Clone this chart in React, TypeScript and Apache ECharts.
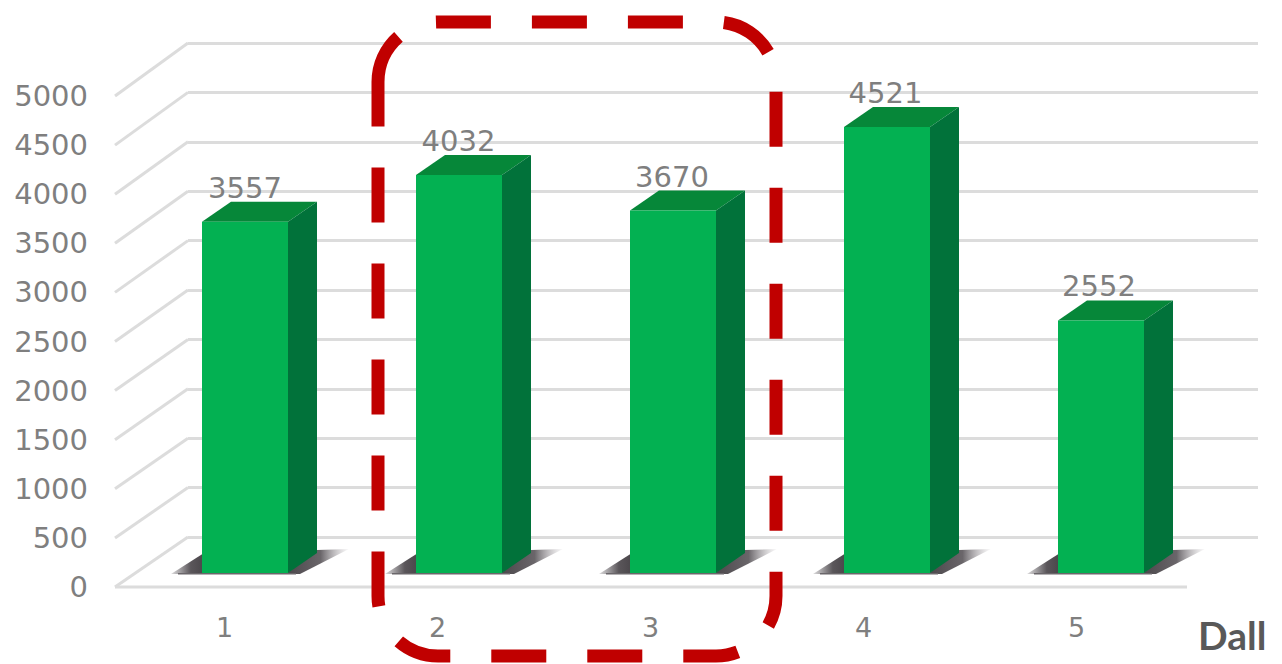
import React, { useEffect, useRef } from "react";
import * as echarts from "echarts";

const categories = ["1", "2", "3", "4", "5"];
const values = [3557, 4032, 3670, 4521, 2552];
const tickValues = [0, 500, 1000, 1500, 2000, 2500, 3000, 3500, 4000, 4500, 5000];
const axisName = "Dall";

const FONT = "'DejaVu Sans'";
const TEXT = "#7f7f7f";
const GRID = "#dcdcdc";

const frame =
  "M378 86 L378 82 A60 60 0 0 1 438 22 L716 22 A60 60 0 0 1 776 82 L776 596 A60 60 0 0 1 716 656 L438 656 A60 60 0 0 1 378 596 Z";
echarts.graphic.registerShape("dashFrame", echarts.graphic.extendPath(frame, {}));

export default function App() {
  const ref = useRef<HTMLDivElement>(null);
  useEffect(() => {
    const chart = echarts.init(ref.current!, undefined, { renderer: "svg" });
    const hw = 43;
    const depthX = 29;
    const depthY = 20;
    const option: any = {
      animation: false,
      backgroundColor: "#ffffff",
      grid: [
        { left: 118, width: 1065, top: 96, height: 491 },
        { left: 188, width: 1070, top: 43, height: 494 },
      ],
      xAxis: [
        {
          type: "category",
          gridIndex: 0,
          data: categories,
          axisTick: { show: false },
          axisLine: { show: false },
          axisLabel: { color: TEXT, fontSize: 27, fontFamily: FONT, margin: 27 },
        },
        {
          type: "category",
          gridIndex: 1,
          data: categories,
          axisTick: { show: false },
          axisLine: { show: false },
          axisLabel: { show: false },
        },
      ],
      yAxis: [
        {
          type: "value",
          gridIndex: 0,
          min: 0,
          max: 5000,
          interval: 500,
          axisLine: { show: false },
          axisTick: { show: false },
          splitLine: { show: false },
          axisLabel: {
            color: TEXT,
            fontSize: 29,
            fontFamily: FONT,
            margin: 30,
            formatter: (v: number) => String(v),
          },
        },
        {
          type: "value",
          gridIndex: 1,
          min: 0,
          max: 5000,
          interval: 500,
          axisLine: { show: false },
          axisTick: { show: false },
          axisLabel: { show: false },
          splitLine: { show: true, lineStyle: { color: GRID, width: 3 } },
        },
      ],
      series: [
        {
          type: "custom",
          xAxisIndex: 0,
          yAxisIndex: 0,
          silent: true,
          z: 1,
          clip: false,
          data: tickValues.map((v) => [0, v]),
          renderItem: (_p: any, api: any) => {
            const v = api.value(1);
            const y = api.coord([0, v])[1];
            const backY = 537 - (v / 5000) * 494;
            const side = {
              type: "line",
              shape: { x1: 115, y1: y, x2: 188, y2: backY },
              style: { stroke: GRID, lineWidth: 3, fill: "none" },
            };
            if (v !== 0) return side;
            return {
              type: "group",
              children: [
                side,
                {
                  type: "line",
                  shape: { x1: 115, y1: y, x2: 1187, y2: y },
                  style: { stroke: GRID, lineWidth: 3, fill: "none" },
                },
              ],
            };
          },
        },
        {
          type: "custom",
          xAxisIndex: 0,
          yAxisIndex: 0,
          z: 3,
          clip: false,
          data: values.map((v, i) => [i, v]),
          renderItem: (_p: any, api: any) => {
            const i = api.value(0);
            const v = api.value(1);
            const c = api.coord([i, v]);
            const base = api.coord([i, 0]);
            const cx = c[0] + 20.5 + i;
            const l = cx - hw;
            const r = cx + hw;
            const t = c[1] - 16;
            const b = base[1] - 14;
            return {
              type: "group",
              children: [
                {
                  type: "polygon",
                  shape: { points: [[l - 31, b + 1], [l + 2, b + 1], [l + 2, b - 20]] },
                  style: {
                    fill: new echarts.graphic.LinearGradient(0, 0, 1, 0, [
                      { offset: 0, color: "rgba(90,85,90,0.2)" },
                      { offset: 0.6, color: "#5a565a" },
                      { offset: 1, color: "#4a464a" },
                    ]),
                  },
                },
                {
                  type: "polygon",
                  shape: {
                    points: [[r - 2, b + 1], [r + depthX, b - depthY - 3], [r + depthX + 32, b - depthY - 4], [r + 12, b + 1]],
                  },
                  style: {
                    fill: new echarts.graphic.LinearGradient(0, 0, 1, 0, [
                      { offset: 0, color: "#4a464a" },
                      { offset: 0.55, color: "#6a666a" },
                      { offset: 1, color: "rgba(170,165,170,0.05)" },
                    ]),
                  },
                },
                {
                  type: "rect",
                  shape: { x: l - 24, y: b, width: r - l + 32, height: 1.5 },
                  style: { fill: "#6a666a" },
                },
                {
                  type: "polygon",
                  shape: { points: [[l, t], [r, t], [r + depthX, t - depthY], [l + depthX, t - depthY]] },
                  style: { fill: "#068739" },
                },
                {
                  type: "polygon",
                  shape: { points: [[r, t], [r + depthX, t - depthY], [r + depthX, b - depthY], [r, b]] },
                  style: { fill: "#01723a" },
                },
                {
                  type: "rect",
                  shape: { x: l, y: t, width: r - l, height: b - t },
                  style: { fill: "#03b152" },
                },
                {
                  type: "text",
                  x: cx - i * 0.5,
                  y: t - depthY - 14,
                  style: {
                    text: String(v),
                    fill: TEXT,
                    font: `29px ${FONT}`,
                    textAlign: "center",
                    textVerticalAlign: "middle",
                  },
                },
              ],
            };
          },
        },
      ],
      graphic: [
        {
          type: "dashFrame",
          z: 100,
          silent: true,
          x: 0,
          y: 0,
          style: {
            fill: "none",
            stroke: "#c00000",
            lineWidth: 13,
            lineDash: [55, 41],
            lineCap: "butt",
          },
        },
        {
          type: "text",
          z: 100,
          silent: true,
          x: 1198,
          y: 635,
          style: {
            text: axisName,
            fill: "#595959",
            font: "bold 39px Lato",
            textVerticalAlign: "middle",
          },
        },
      ],
    };
    chart.setOption(option);
    return () => chart.dispose();
  }, []);
  return (
    <div
      ref={ref}
      style={{ position: "fixed", left: 0, top: 0, width: 1282, height: 664 }}
    />
  );
}
